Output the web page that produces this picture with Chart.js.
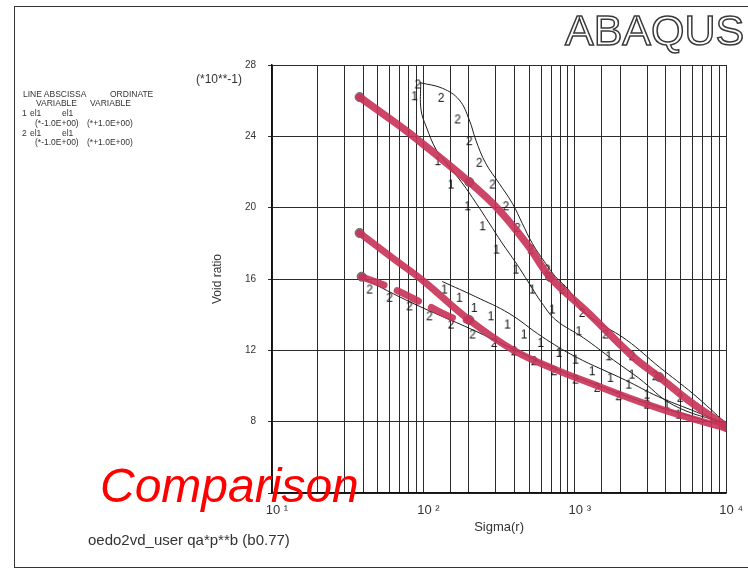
<!DOCTYPE html>
<html><head><meta charset="utf-8">
<script src="https://cdn.jsdelivr.net/npm/chart.js@4"></script>
<style>
html,body{margin:0;padding:0;background:#fff;}
#wrap{position:relative;width:748px;height:570px;overflow:hidden;font-family:"Liberation Sans",Arial,sans-serif;color:#2a2a2a;}
#c{position:absolute;left:0;top:0;}
.t{position:absolute;white-space:pre;line-height:1;}
.lg{position:absolute;white-space:pre;line-height:1;font-size:8.5px;color:#333;}
</style></head><body>
<div id="wrap">
<div style="position:absolute;left:14px;top:6px;width:760px;height:560px;border-left:1.5px solid #333;border-top:1.5px solid #333;border-bottom:1.5px solid #333;"></div>
<canvas id="c" width="748" height="570"></canvas>
<div class="t" style="left:565px;top:9px;font-size:43px;color:#fff;-webkit-text-stroke:1.5px #3a3a3a;">ABAQUS</div>
<div class="t" style="left:196px;top:73px;font-size:12px;color:#333;">(*10**-1)</div>
<div class="lg" style="left:23px;top:90px;">LINE ABSCISSA</div>
<div class="lg" style="left:110px;top:90px;">ORDINATE</div>
<div class="lg" style="left:36px;top:99px;">VARIABLE</div>
<div class="lg" style="left:90px;top:99px;">VARIABLE</div>
<div class="lg" style="left:22px;top:109px;">1</div>
<div class="lg" style="left:30px;top:109px;">el1</div>
<div class="lg" style="left:62px;top:109px;">el1</div>
<div class="lg" style="left:35px;top:119px;">(*-1.0E+00)</div>
<div class="lg" style="left:87px;top:119px;">(*+1.0E+00)</div>
<div class="lg" style="left:22px;top:129px;">2</div>
<div class="lg" style="left:30px;top:129px;">el1</div>
<div class="lg" style="left:62px;top:129px;">el1</div>
<div class="lg" style="left:35px;top:138px;">(*-1.0E+00)</div>
<div class="lg" style="left:87px;top:138px;">(*+1.0E+00)</div>
<div class="t" style="left:88px;top:532px;font-size:15px;color:#333;">oedo2vd_user qa*p**b (b0.77)</div>
<div class="t" style="left:100px;top:462px;font-size:48px;font-style:italic;color:#f00;">Comparison</div>
</div>
<script>
// ---- data (Sigma(r), Void ratio x10) ----
const xDecades = [10, 100, 1000, 10000];
const xDecadeLabels = ['10 \u00B9', '10 \u00B2', '10 \u00B3', '10 \u2074'];
const yTicks = [4, 8, 12, 16, 20, 24, 28];

// hand drawn (red) experimental curves
const redA = [[37.9,26.2],[59.7,25.0],[80.9,24.17],[201,21.44],[316,19.87],[498,17.81],[686,16.11],[1236,14.07],[2440,11.62],[3620,10.5],[6070,8.99],[10000,7.75]];
const redB = [[37.9,18.58],[63.2,17.15],[100,15.89],[201,13.7],[391,12.02],[762,10.89],[1313,10.11],[2200,9.38],[4690,8.43],[10000,7.64]];
const redC = [[39.1,16.13],[65,15.4],[104.6,14.54],[165,13.75],[201,13.7]];
const redDots = [[37.9,26.2],[37.9,18.58],[39.1,16.13],[201,21.44],[686,16.11],[201,13.7],[3620,10.5],[10000,7.7]];

// computed curves (line 1 and line 2)
const upper2 = [[96,27.0],[134,26.69],[172.6,26.04],[201,24.92],[222,23.79],[258,22.49],[316,21.37],[387,20.24],[450,19.12],[524,18.0],[641,16.88],[746,16.13],[912,15.38],[1175,14.07],[2200,12.58],[3620,11.06],[6070,9.55],[10000,7.9]];
const upper1 = [[96,27.0],[96.5,25.48],[104.6,24.52],[121.8,23.23],[141.7,22.5],[180.5,21.38],[223.2,20.25],[271.8,19.14],[330.9,18.02],[409.1,16.9],[498.2,15.77],[606.6,14.65],[749.9,13.7],[1146,12.69],[1805,11.45],[2637,10.45],[4480,8.93],[10000,7.87]];
const lower1 = [[134,15.85],[222,15.0],[368,14.07],[609,12.76],[1011,11.64],[2158,10.33],[3570,9.4],[5910,8.65],[10000,7.87]];
const lower2 = [[39.7,16.05],[84.7,14.65],[213,13.14],[403,12.02],[738,10.97],[1430,10.02],[3050,9.0],[6070,8.26],[10000,7.7]];

// curve symbols "1" and "2"
const marks1 = [[87.3,26.22],[124.2,22.58],[152,21.27],[195.6,20.05],[245.5,18.93],[303.5,17.62],[407.6,16.5],[523.6,15.38],[709,14.26],[1062,13.04],[1674,11.64],[2383,10.61],[4046,8.93],
  [137.4,15.38],[172.6,14.92],[216.5,14.35],[278.8,13.88],[358.5,13.42],[461.8,12.86],[594.8,12.39],[784.8,11.83],[1010.6,11.45],[1299.6,10.8],[1717,10.43],[2266,10.05],[2990,9.49],[4831,8.37]];
const marks2 = [[91.7,26.88],[130.8,26.13],[168.1,24.92],[200.7,23.7],[233.6,22.49],[285.6,21.27],[350,20.05],[417.4,18.84],[511,17.62],[657,16.5],[825,15.38],[1117,14.07],[1592,12.86],[2383,11.64],[3396,10.52],[4955,9.31],
  [44.1,15.38],[59.7,14.92],[80.9,14.44],[109.5,13.88],[152.1,13.42],[211,12.86],[293.2,12.39],[396.9,11.92],[537.5,11.36],[727.5,10.8],[1010.6,10.33],[1402,9.87],[1948,9.4],[2990,8.93]];

const FAM = '"Liberation Sans", Arial, sans-serif';
Chart.defaults.font.family = FAM;

const xy = a => a.map(p => ({x: p[0], y: p[1]}));
const RED = 'rgba(200,50,88,0.9)';

function digit(ch) {
  const c = document.createElement('canvas');
  c.width = 12; c.height = 15;
  const g = c.getContext('2d');
  g.font = '12px ' + FAM;
  g.fillStyle = '#111';
  g.textAlign = 'center';
  g.textBaseline = 'middle';
  g.fillText(ch, 6, 8);
  return c;
}

function curve(a, color, width, extra) {
  return Object.assign({data: xy(a), showLine: true, borderColor: color, borderWidth: width,
    pointRadius: 0, tension: 0.4, fill: false, borderCapStyle: 'round', borderJoinStyle: 'round'}, extra || {});
}

new Chart(document.getElementById('c'), {
  type: 'scatter',
  data: {datasets: [
    curve(redA, RED, 7.5),
    curve(redB, RED, 7),
    curve(redC, RED, 7, {borderDash: [24, 14], borderCapStyle: 'round'}),
    {data: xy(redDots), showLine: false, pointRadius: 4.5, pointBackgroundColor: 'rgba(125,110,118,0.85)', pointBorderColor: 'rgba(95,85,90,0.9)', pointBorderWidth: 1},
    curve(upper2, '#1e1e1e', 1),
    curve(upper1, '#1e1e1e', 1),
    curve(lower1, '#1e1e1e', 1),
    curve(lower2, '#1e1e1e', 1),
    {data: xy(marks1), showLine: false, pointRadius: 4, pointStyle: digit('1')},
    {data: xy(marks2), showLine: false, pointRadius: 4, pointStyle: digit('2')}
  ]},
  options: {
    responsive: false, animation: false, devicePixelRatio: 1,
    layout: {padding: {left: 10, top: 65, right: 20, bottom: 0}},
    plugins: {legend: {display: false}, tooltip: {enabled: false}},
    scales: {
      x: {
        type: 'logarithmic', min: xDecades[0], max: xDecades[xDecades.length - 1],
        afterFit(s) { s.height = 77; },
        grid: {color: '#2b2b2b', lineWidth: 1, drawTicks: false},
        border: {color: '#111', width: 1.5},
        ticks: {
          autoSkip: false, maxRotation: 0, padding: 10, labelOffset: 5,
          font: {size: 13}, color: '#333',
          callback: (v) => { const i = xDecades.indexOf(v); return i >= 0 ? xDecadeLabels[i] : ''; }
        },
        title: {display: true, text: 'Sigma(r)', font: {size: 13}, color: '#333', padding: {top: 0, bottom: 35}}
      },
      y: {
        min: yTicks[0], max: yTicks[yTicks.length - 1],
        afterFit(s) { s.width = 262; },
        afterBuildTicks(s) { s.ticks = yTicks.map(v => ({value: v})); },
        grid: {color: '#2b2b2b', lineWidth: 1, tickLength: 4},
        border: {color: '#111', width: 1.5},
        ticks: {padding: 12, font: {size: 10}, color: '#333', callback: v => v === yTicks[0] ? '' : String(v)},
        title: {display: true, text: 'Void ratio', font: {size: 12}, color: '#333', padding: {top: 200, bottom: 0}}
      }
    }
  }
});
</script>
</body></html>
